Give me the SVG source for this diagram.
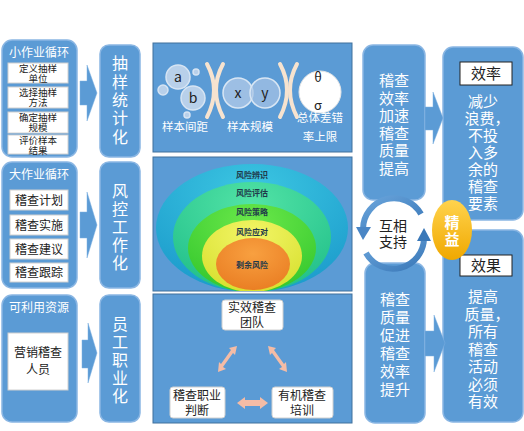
<svg xmlns="http://www.w3.org/2000/svg" width="524" height="431" viewBox="0 0 524 431">
<defs>
<style>
text{font-family:"Noto Sans CJK SC","Noto Sans",sans-serif;text-anchor:middle}
.box{fill:#5b9bd5;stroke:#8ab6e3;stroke-width:1.5}
.panel{fill:#5b9bd5;stroke:#41719c;stroke-width:1}
.wb{fill:#fff;stroke:#d0d0d0;stroke-width:1}
.wt{fill:#fff}
.bt{fill:#222}
.arr{fill:#5b9bd5;stroke:#7fb0e0;stroke-width:0.5}
.paren{fill:none;stroke:#f7e3cf;stroke-width:4;stroke-linecap:round}
.bub{fill:#b8d0ea;stroke:#d6e4f3;stroke-width:1.5}
.rl{font-size:8px;font-weight:bold;fill:#1f3a4a}
.pk{fill:#f4bca6}
.vt{font-size:16px;fill:#fff}
.rt{font-size:15px;fill:#fff}
.st{font-size:9.5px;fill:#222}
</style>
<linearGradient id="gold" x1="0" y1="0" x2="0" y2="1"><stop offset="0" stop-color="#ffd34d"/><stop offset="1" stop-color="#f0a800"/></linearGradient>
<linearGradient id="ring" x1="0" y1="0" x2="1" y2="1"><stop offset="0" stop-color="#6aa5dc"/><stop offset="1" stop-color="#3a78b8"/></linearGradient>
<radialGradient id="g1" cx="0.5" cy="0.2" r="0.8"><stop offset="0" stop-color="#3cc6e2"/><stop offset="1" stop-color="#1c9ccc"/></radialGradient>
<radialGradient id="g2" cx="0.5" cy="0.2" r="0.8"><stop offset="0" stop-color="#52e3a6"/><stop offset="1" stop-color="#22c08a"/></radialGradient>
<radialGradient id="g3" cx="0.5" cy="0.2" r="0.8"><stop offset="0" stop-color="#6ae84a"/><stop offset="1" stop-color="#36c82e"/></radialGradient>
<radialGradient id="g4" cx="0.5" cy="0.2" r="0.8"><stop offset="0" stop-color="#f2f566"/><stop offset="1" stop-color="#d8e030"/></radialGradient>
<radialGradient id="g5" cx="0.5" cy="0.3" r="0.8"><stop offset="0" stop-color="#f8a040"/><stop offset="1" stop-color="#e87a20"/></radialGradient>
<clipPath id="p2clip"><rect x="153" y="157" width="199" height="134"/></clipPath>
</defs>
<rect width="524" height="431" fill="#fff"/>

<!-- Left column -->
<g id="small-loop">
<rect class="box" x="2" y="40" width="75" height="117" rx="10"/>
<text class="wt" x="39" y="57" font-size="12">小作业循环</text>
<rect class="wb" x="8" y="63" width="60" height="20"/>
<text class="st"><tspan x="38" y="72">定义抽样</tspan><tspan x="38" y="82">单位</tspan></text>
<rect class="wb" x="8" y="87" width="60" height="21"/>
<text class="st"><tspan x="38" y="96">选择抽样</tspan><tspan x="38" y="106">方法</tspan></text>
<rect class="wb" x="8" y="112" width="60" height="21"/>
<text class="st"><tspan x="38" y="121">确定抽样</tspan><tspan x="38" y="131">规模</tspan></text>
<rect class="wb" x="8" y="135" width="60" height="19"/>
<text class="st"><tspan x="38" y="144">评价样本</tspan><tspan x="38" y="154">结果</tspan></text>
</g>
<g id="sampling">
<rect class="box" x="100" y="45" width="40" height="112" rx="9"/>
<text class="vt"><tspan x="120" y="69">抽</tspan><tspan x="120" y="88">样</tspan><tspan x="120" y="106">统</tspan><tspan x="120" y="124">计</tspan><tspan x="120" y="143">化</tspan></text>
</g>

<g id="big-loop">
<rect class="box" x="2" y="162" width="75" height="126" rx="10"/>
<text class="wt" x="39" y="179" font-size="12">大作业循环</text>
<rect class="wb" x="10" y="190" width="58" height="20"/>
<text class="bt" x="39" y="205" font-size="12">稽查计划</text>
<rect class="wb" x="10" y="215" width="58" height="20"/>
<text class="bt" x="39" y="230" font-size="12">稽查实施</text>
<rect class="wb" x="10" y="239" width="58" height="20"/>
<text class="bt" x="39" y="254" font-size="12">稽查建议</text>
<rect class="wb" x="10" y="263" width="58" height="19"/>
<text class="bt" x="39" y="277" font-size="12">稽查跟踪</text>
</g>
<g id="risk-control">
<rect class="box" x="100" y="162" width="40" height="126" rx="9"/>
<text class="vt"><tspan x="120" y="197">风</tspan><tspan x="120" y="215">控</tspan><tspan x="120" y="233">工</tspan><tspan x="120" y="251">作</tspan><tspan x="120" y="269">化</tspan></text>
</g>

<g id="resources">
<rect class="box" x="2" y="295" width="75" height="127" rx="10"/>
<text class="wt" x="39" y="312" font-size="12">可利用资源</text>
<rect class="wb" x="8" y="333" width="60" height="57"/>
<text class="bt" font-size="12"><tspan x="38" y="357">营销稽查</tspan><tspan x="38" y="374">人员</tspan></text>
</g>
<g id="staff">
<rect class="box" x="100" y="295" width="40" height="127" rx="9"/>
<text class="vt"><tspan x="120" y="330">员</tspan><tspan x="120" y="348">工</tspan><tspan x="120" y="366">职</tspan><tspan x="120" y="384">业</tspan><tspan x="120" y="402">化</tspan></text>
</g>

<!-- Panel 1 -->
<g id="panel-sampling">
<rect class="panel" x="153" y="43" width="199" height="109"/>
<circle class="bub" cx="163" cy="90" r="5"/>
<circle class="bub" cx="196" cy="72" r="3"/>
<circle class="bub" cx="187" cy="115" r="3"/>
<circle class="bub" cx="178" cy="77" r="12"/>
<circle class="bub" cx="193" cy="98" r="12"/>
<text class="bt" x="178" y="82" font-size="14">a</text>
<text class="bt" x="193" y="103" font-size="14">b</text>
<path class="paren" d="M207,64 Q221,90 207,117"/>
<path class="paren" d="M223,64 Q209,90 223,117"/>
<circle cx="238" cy="93" r="15" fill="#a9c5e6" fill-opacity="0.85" stroke="#d8e6f4" stroke-width="1.5"/>
<circle cx="265" cy="93" r="15" fill="#a9c5e6" fill-opacity="0.7" stroke="#d8e6f4" stroke-width="1.5"/>
<text class="bt" x="238" y="98" font-size="14">x</text>
<text class="bt" x="265" y="98" font-size="14">y</text>
<path class="paren" d="M280,64 Q294,90 280,117"/>
<path class="paren" d="M297,64 Q283,90 297,117"/>
<circle cx="320" cy="92" r="21" fill="#fff" stroke="#e6e6e6"/>
<text class="bt" x="318" y="82" font-size="13">θ</text>
<text class="bt" x="318" y="110" font-size="13">σ</text>
<text class="wt" x="185" y="131" font-size="11.5">样本间距</text>
<text class="wt" x="250" y="131" font-size="11.5">样本规模</text>
<text class="wt" x="320" y="122" font-size="11.5">总体差错</text>
<text class="wt" x="320" y="141" font-size="11.5">率上限</text>
</g>

<!-- Panel 2 -->
<g id="panel-risk">
<rect class="panel" x="153" y="157" width="199" height="134"/>
<g clip-path="url(#p2clip)">
<ellipse cx="252" cy="228" rx="96" ry="64" fill="url(#g1)"/>
<ellipse cx="252" cy="237" rx="79" ry="55" fill="url(#g2)"/>
<ellipse cx="252" cy="248" rx="64" ry="44" fill="url(#g3)"/>
<ellipse cx="252" cy="256" rx="50" ry="36" fill="url(#g4)"/>
<ellipse cx="253" cy="264" rx="37" ry="26" fill="url(#g5)"/>
</g>
<text class="rl" x="252" y="178">风险辨识</text>
<text class="rl" x="252" y="196">风险评估</text>
<text class="rl" x="252" y="215">风险策略</text>
<text class="rl" x="252" y="235">风险应对</text>
<text class="rl" x="252" y="268">剩余风险</text>
</g>

<!-- Panel 3 -->
<g id="panel-team">
<rect class="panel" x="153" y="294" width="199" height="129"/>
<g id="team">
<rect class="wb" x="222" y="300" width="61" height="30" rx="3" stroke="#999"/>
<text class="bt" font-size="12"><tspan x="252" y="312">实效稽查</tspan><tspan x="252" y="327">团队</tspan></text>
</g>
<g id="judgement">
<rect class="wb" x="170" y="387" width="55" height="31" rx="3" stroke="#999"/>
<text class="bt" font-size="12"><tspan x="197" y="400">稽查职业</tspan><tspan x="197" y="415">判断</tspan></text>
</g>
<g id="training">
<rect class="wb" x="272" y="387" width="61" height="31" rx="3" stroke="#999"/>
<text class="bt" font-size="12"><tspan x="302" y="400">有机稽查</tspan><tspan x="302" y="415">培训</tspan></text>
</g>
</g>

<!-- Right column -->
<g id="efficiency-speed">
<rect class="box" x="363" y="45" width="62" height="155" rx="10"/>
<text class="rt"><tspan x="394" y="86">稽查</tspan><tspan x="394" y="103.5">效率</tspan><tspan x="394" y="121">加速</tspan><tspan x="394" y="138.5">稽查</tspan><tspan x="394" y="156">质量</tspan><tspan x="394" y="173.5">提高</tspan></text>
</g>
<g id="efficiency">
<rect class="box" x="443" y="47" width="80" height="173" rx="10"/>
<rect x="460" y="62" width="52" height="23" fill="#fff" stroke="#222" stroke-width="1"/>
<text class="bt" x="486" y="79" font-size="15">效率</text>
<text class="rt"><tspan x="483" y="107">减少</tspan><tspan x="487" y="124">浪费，</tspan><tspan x="483" y="141">不投</tspan><tspan x="483" y="158">入多</tspan><tspan x="483" y="175">余的</tspan><tspan x="483" y="192">稽查</tspan><tspan x="483" y="209">要素</tspan></text>
</g>
<g id="quality-promote">
<rect class="box" x="365" y="263" width="60" height="160" rx="10"/>
<text class="rt"><tspan x="395" y="305">稽查</tspan><tspan x="395" y="323">质量</tspan><tspan x="395" y="341">促进</tspan><tspan x="395" y="359">稽查</tspan><tspan x="395" y="377">效率</tspan><tspan x="395" y="395">提升</tspan></text>
</g>
<g id="effect">
<rect class="box" x="443" y="230" width="80" height="192" rx="10"/>
<rect x="460" y="255" width="52" height="21" fill="#fff" stroke="#222" stroke-width="1"/>
<text class="bt" x="486" y="271" font-size="15">效果</text>
<text class="rt"><tspan x="483" y="302">提高</tspan><tspan x="487" y="319.5">质量，</tspan><tspan x="483" y="337">所有</tspan><tspan x="483" y="354.5">稽查</tspan><tspan x="483" y="372">活动</tspan><tspan x="483" y="389.5">必须</tspan><tspan x="483" y="407">有效</tspan></text>
</g>
<g id="mutual">
<circle cx="393" cy="233" r="26" fill="#fff"/>
<text class="bt" font-size="14"><tspan x="393" y="231">互相</tspan><tspan x="393" y="247">支持</tspan></text>
</g>
<g id="lean">
<ellipse cx="452" cy="230" rx="20" ry="30" fill="url(#gold)"/>
<text class="wt" font-size="15" font-weight="bold"><tspan x="452" y="228">精</tspan><tspan x="452" y="245">益</tspan></text>
</g>

<!-- Connectors -->
<g id="connectors">
<polygon class="arr" points="80,81 87,81 87,65 97,93 87,121 87,105 80,105"/>
<polygon class="arr" points="80,212 87,212 87,192 97,225 87,258 87,238 80,238"/>
<polygon class="arr" points="82,340 88,340 88,323 97,353 88,383 88,368 82,368"/>
<polygon class="arr" points="425,107 433,107 433,92 443,118 433,144 433,130 425,130"/>
<polygon class="arr" points="425,331 434,331 434,315 445,343 434,372 434,356 425,356"/>
<polygon class="pk" points="218,372 219,362 221,364 231,350 229,348 237,346 235,355 233,353 223,367 226,369"/>
<polygon class="pk" points="287,372 286,362 284,364 274,350 276,348 268,346 270,355 272,353 282,367 279,369"/>
<polygon class="pk" points="237,403 245,397 245,400 260,400 260,397 268,403 260,409 260,406 245,406 245,409"/>
<path d="M421,214 A31,31 0 0 0 363,229" fill="none" stroke="url(#ring)" stroke-width="6"/>
<polygon points="356,227 371,227 363,240" fill="#4a86c5"/>
<path d="M366,253 A31,31 0 0 0 424,238" fill="none" stroke="url(#ring)" stroke-width="6"/>
<polygon points="417,241 431,241 424,228" fill="#3a78b8"/>
</g>
</svg>
